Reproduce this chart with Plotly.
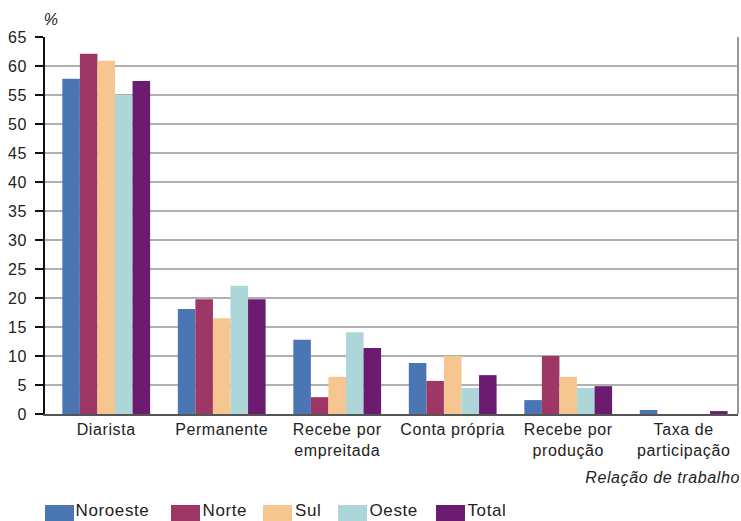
import plotly.graph_objects as go

# Tipo de relação de trabalho, por região
categorias = ["Diarista", "Permanente", "Recebe por<br>empreitada", "Conta própria",
              "Recebe por<br>produção", "Taxa de<br>participação"]
series = ["Noroeste", "Norte", "Sul", "Oeste", "Total"]
noroeste = [57.8, 18.1, 12.8, 8.8, 2.4, 0.7]
norte = [62.1, 19.8, 2.9, 5.7, 10.0, 0.0]
sul = [60.9, 16.5, 6.4, 10.0, 6.4, 0.0]
oeste = [55.0, 22.1, 14.1, 4.5, 4.5, 0.0]
total = [57.4, 19.8, 11.4, 6.7, 4.8, 0.5]
valores = [noroeste, norte, sul, oeste, total]
cores = ["#4a76b4", "#9e3766", "#f5c690", "#acd6d7", "#6b1c71"]
y_ticks = list(range(0, 70, 5))

FONT = "Liberation Sans, Arial, sans-serif"
PLOT_W = 741 - 45 - 3
PLOT_H = 377

fig = go.Figure()
for nome, vals, cor in zip(series, valores, cores):
    fig.add_trace(go.Bar(x=categorias, y=vals, name=nome, marker_color=cor,
                         marker_line_width=0, showlegend=False))

fig.update_layout(
    width=741, height=521,
    margin=dict(l=45, r=3, t=37, b=107),
    paper_bgcolor="white", plot_bgcolor="white",
    barmode="group", bargap=0.24, bargroupgap=0,
    font=dict(family=FONT, size=16, color="#222222"),
)
fig.update_yaxes(range=[0, 65], tickvals=y_ticks, showgrid=True,
                 gridcolor="#b0b0b0", gridwidth=2,
                 showline=True, linecolor="#111111", linewidth=1.5,
                 ticks="outside", ticklen=8, tickcolor="#111111", tickwidth=1.5,
                 ticklabelstandoff=5, zeroline=False, tickfont=dict(size=16))
fig.update_xaxes(range=[-0.53, 5.47], showline=True, linecolor="#555555", linewidth=2,
                 ticks="", tickfont=dict(size=16))

# right border of the plot area
fig.add_shape(type="line", xref="paper", yref="paper", x0=1, x1=1, y0=0, y1=1,
              line=dict(color="#9a9a9a", width=2))

fig.add_annotation(text="<i>%</i>", xref="paper", yref="paper", x=-0.005,
                   y=(414 - 30) / PLOT_H, xanchor="left", yanchor="bottom",
                   showarrow=False, font=dict(size=16))
fig.add_annotation(text="<i>Relação de trabalho</i>", xref="paper", yref="paper",
                   x=1.0 - 2 / PLOT_W, y=-(477 - 414) / PLOT_H, xanchor="right",
                   yanchor="middle", showarrow=False, font=dict(size=16))

# legend row under the chart
swatch_x = [45, 171, 263, 338, 436]
for nome, cor, sx in zip(series, cores, swatch_x):
    fig.add_shape(type="rect", xref="paper", yref="paper",
                  x0=(sx - 45) / PLOT_W, x1=(sx + 29 - 45) / PLOT_W,
                  y0=-(505 - 414) / PLOT_H, y1=-(521 - 414) / PLOT_H,
                  fillcolor=cor, line_width=0)
    fig.add_annotation(text=nome, xref="paper", yref="paper",
                       x=(sx + 31 - 45) / PLOT_W, y=-(510 - 414) / PLOT_H,
                       xanchor="left", yanchor="middle", showarrow=False,
                       font=dict(size=17))

# slightly spaced lettering for all chart text
spacing_js = """
var gd = document.getElementById('{plot_id}');
function spaceText() {
  gd.querySelectorAll('svg text').forEach(function (t) { t.style.letterSpacing = '0.6px'; });
}
spaceText();
gd.on('plotly_afterplot', spaceText);
"""

fig.write_html("out.html", post_script=spacing_js)
